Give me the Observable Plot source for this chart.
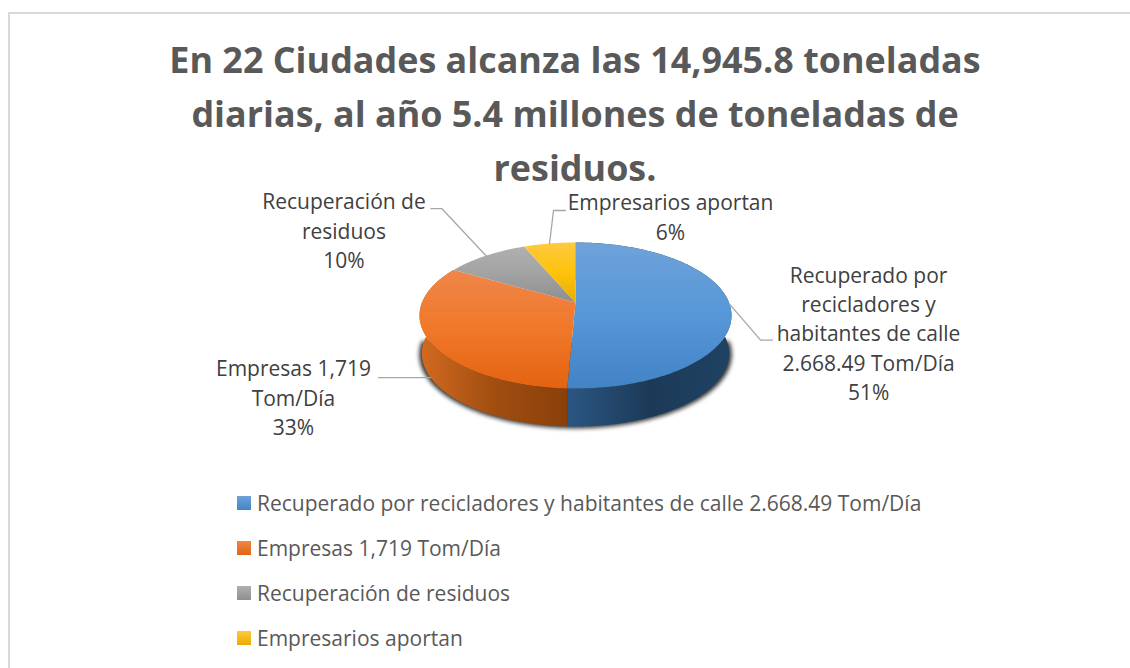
<!DOCTYPE html>
<html><head><meta charset="utf-8">
<script src="https://cdn.jsdelivr.net/npm/d3@7"></script>
<script src="https://cdn.jsdelivr.net/npm/@observablehq/plot@0.6"></script>
<style>
html,body{margin:0;padding:0;background:#fff;width:1130px;height:668px;overflow:hidden;}
#frame{position:absolute;left:8px;top:12px;width:1122px;height:656px;border-left:2px solid #d9d9d9;border-top:2px solid #d9d9d9;box-sizing:border-box;}
#title{position:absolute;left:0;top:33px;width:1150px;text-align:center;font:700 35.9px/54px "Open Sans",sans-serif;color:#595959;}
#chart{position:absolute;left:0;top:185px;}
#legend{position:absolute;left:237px;top:481px;font:400 21px "Open Sans",sans-serif;color:#595959;white-space:nowrap;}
#legend .row{height:44.8px;display:flex;align-items:center;}
#legend .sw{width:14px;height:14px;margin-right:6px;flex:none;}
.shadow{filter:blur(2px);}
</style></head><body>
<div id="frame"></div>
<div id="title">En 22 Ciudades alcanza las 14,945.8 toneladas<br>diarias, al año 5.4 millones de toneladas de<br>residuos.</div>
<div id="chart"></div>
<div id="legend"></div>
<script>
const categories = ["Recuperado por recicladores y habitantes de calle 2.668.49 Tom/Día","Empresas 1,719 Tom/Día","Recuperación de residuos","Empresarios aportan"];
const values = [2668.49, 1719, 540, 335];
const labelLines = [
  ["Recuperado por","recicladores y","habitantes de calle","2.668.49 Tom/Día","51%"],
  ["Empresas 1,719","Tom/Día","33%"],
  ["Recuperación de","residuos","10%"],
  ["Empresarios aportan","6%"]
];
const topColors = [["#6fa2da","#5597d7","#4283c6"],["#ef8649","#f1782a","#e36310"],["#b0b0b0","#a2a2a2","#8e8e8e"],["#ffc93f","#fdc30c","#e9ad00"]];
const sideColors = [["#2b5682","#1c3a58","#1f4263"],["#d36a20","#a14e10","#8a3f0a"]];
const pieGeom = {cx:575, cy:302, A:153.5, B:70.7, p:0.178, depth:38, shrink:0.985};
// leader elbow offsets from the slice's rim midpoint, and label offsets from the elbow
const leaderLayout = [
  {dx:31,dy:36,tail:12,onSide:false,tx:108,ty:-64},
  {dx:-20,dy:0,tail:-32,onSide:true,tx:-117,ty:-8},
  {dx:-44,dy:-47,tail:-11,onSide:false,tx:-98,ty:-6},
  {dx:4,dy:-33,tail:12,onSide:false,tx:117,ty:-7}
];
const lineStep = 29.3;

function project(theta, bottom){
  const u=Math.sin(theta), v=-Math.cos(theta), w=1-pieGeom.p*v;
  const px=pieGeom.A*u/w, py=pieGeom.B*v/w;
  return bottom ? {x:pieGeom.cx+px*pieGeom.shrink,y:pieGeom.cy+py+pieGeom.depth}
                : {x:pieGeom.cx+px,y:pieGeom.cy+py};
}
function arc(a,b,bottom){
  const n=Math.max(2,Math.ceil(Math.abs(b-a)/0.02));
  return d3.range(n+1).map(i=>project(a+(b-a)*i/n,bottom));
}
const arcs = d3.pie().sort(null)(values);
const topPolys = arcs.map(s=>[{x:pieGeom.cx,y:pieGeom.cy},...arc(s.startAngle,s.endAngle,false)]);
const sidePolys = arcs.slice(0,2).map(s=>[...arc(s.startAngle,s.endAngle,false),...arc(s.endAngle,s.startAngle,true)]);
const shadowPoly = arc(Math.PI*0.5,Math.PI*1.5,true).map(d=>({x:pieGeom.cx+(d.x-pieGeom.cx)*1.012,y:d.y+1}));

const leaders=[], texts=[];
arcs.forEach((s,i)=>{
  const L=leaderLayout[i], mid=(s.startAngle+s.endAngle)/2;
  const start=project(mid,L.onSide);
  const elbow={x:start.x+L.dx,y:start.y+L.dy};
  leaders.push([start,elbow,{x:elbow.x+L.tail,y:elbow.y}]);
  labelLines[i].forEach((t,j)=>texts.push({x:elbow.x+L.tx,y:elbow.y+L.ty+j*lineStep,t}));
});

const defs = d3.create("svg").attr("width",0).attr("height",0).style("position","absolute");
const d = defs.append("defs");
topColors.forEach((c,i)=>{
  const g=d.append("linearGradient").attr("id","top"+i).attr("x1",0).attr("y1",0).attr("x2",0).attr("y2",1);
  c.forEach((col,k)=>g.append("stop").attr("offset",k/(c.length-1)).attr("stop-color",col));
});
sideColors.forEach((c,i)=>{
  const g=d.append("linearGradient").attr("id","side"+i).attr("x1",0).attr("y1",0).attr("x2",1).attr("y2",0);
  c.forEach((col,k)=>g.append("stop").attr("offset",k/(c.length-1)).attr("stop-color",col));
});
document.body.appendChild(defs.node());

const plot = Plot.plot({
  width:1130,height:300,margin:0,
  x:{domain:[0,1130],range:[0,1130],axis:null},
  y:{domain:[185,485],range:[0,300],axis:null},
  style:{background:"transparent",overflow:"visible"},
  marks:[
    Plot.line(shadowPoly,{x:"x",y:"y",fill:"#333",stroke:"#333",className:"shadow"}),
    ...sidePolys.map((p,i)=>Plot.line(p,{x:"x",y:"y",fill:`url(#side${i})`,stroke:"none"})),
    ...topPolys.map((p,i)=>Plot.line(p,{x:"x",y:"y",fill:`url(#top${i})`,stroke:"none"})),
    ...leaders.map(l=>Plot.line(l,{x:"x",y:"y",stroke:"#a6a6a6",strokeWidth:1.3})),
    Plot.text(texts,{x:"x",y:"y",text:"t",fill:"#404040",fontSize:21,fontFamily:"'Open Sans',sans-serif",textAnchor:"middle",lineAnchor:"middle"})
  ]
});
document.getElementById("chart").appendChild(plot);

const legend=d3.select("#legend");
categories.forEach((c,i)=>{
  const r=legend.append("div").attr("class","row");
  r.append("div").attr("class","sw").style("background",`linear-gradient(${topColors[i][0]},${topColors[i][2]})`);
  r.append("div").text(c);
});
</script>
</body></html>
